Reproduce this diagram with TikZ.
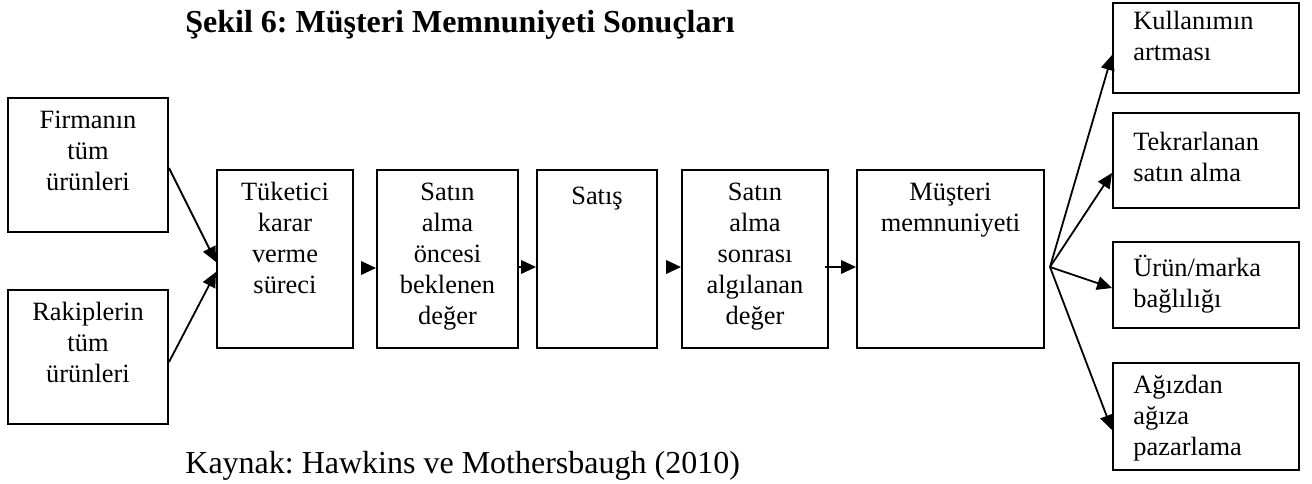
\documentclass[tikz,border=0pt]{standalone}
\usepackage{fontspec}
\setmainfont{Liberation Serif}
\usetikzlibrary{arrows.meta}
\frenchspacing
\begin{document}
\begin{tikzpicture}[x=0.5pt, y=-0.5pt,
  box/.style={draw, line width=1pt, inner sep=0pt, rectangle},
  ctext/.style={anchor=north, inner sep=0pt, align=center,
    font=\fontsize{13.2}{15.5}\selectfont, execute at begin node=\strut},
  ltext/.style={anchor=north west, inner sep=0pt, align=left,
    font=\fontsize{13.2}{15.5}\selectfont, execute at begin node=\strut},
  arr/.style={line width=0.9pt, -{Triangle[length=7.5pt,width=6.8pt]}}]
\useasboundingbox (0,0) rectangle (1312,483);

% title and source
\node[anchor=base west, inner sep=0pt, font=\fontsize{16}{19}\selectfont\bfseries] (title) at (185,32)
  {Şekil 6: Müşteri Memnuniyeti Sonuçları};
\node[anchor=base west, inner sep=0pt, font=\fontsize{16}{19}\selectfont] (src) at (185,473)
  {Kaynak: Hawkins ve Mothersbaugh (2010)};

% left inputs
\node[box, minimum width=80pt, minimum height=67pt] (firma) at (88,165) {};
\node[box, minimum width=80pt, minimum height=67pt] (rakip) at (88,357) {};
% main chain
\node[box, minimum width=68pt, minimum height=89pt] (tuket) at (285,259) {};
\node[box, minimum width=70.5pt, minimum height=89pt] (once) at (447.5,259) {};
\node[box, minimum width=60pt, minimum height=89pt] (satis) at (597,259) {};
\node[box, minimum width=73pt, minimum height=89pt] (sonra) at (755,259) {};
\node[box, minimum width=93.5pt, minimum height=89pt] (must) at (950.5,259) {};
% outcomes
\node[box, minimum width=93pt, minimum height=45pt] (kullan) at (1206,48) {};
\node[box, minimum width=93pt, minimum height=47.5pt] (tekrar) at (1206,160.5) {};
\node[box, minimum width=93pt, minimum height=43pt] (urun) at (1206,285) {};
\node[box, minimum width=93pt, minimum height=53.5pt] (agiz) at (1206,416.5) {};

% box texts
\node[ctext] (t1) at ([yshift=-6.6pt]firma.north) {Firmanın\\tüm\\ürünleri};
\node[ctext] (t2) at ([yshift=-6.6pt]rakip.north) {Rakiplerin\\tüm\\ürünleri};
\node[ctext] (t3) at ([yshift=-6.6pt]tuket.north) {Tüketici\\karar\\verme\\süreci};
\node[ctext] (t4) at ([yshift=-6.6pt]once.north) {Satın\\alma\\öncesi\\beklenen\\değer};
\node[ctext] (t5) at ([yshift=-6.6pt]satis.north) {Satış};
\node[ctext] (t6) at ([yshift=-6.6pt]sonra.north) {Satın\\alma\\sonrası\\algılanan\\değer};
\node[ctext] (t7) at ([yshift=-6.6pt]must.north) {Müşteri\\memnuniyeti};
\node[ltext] (t8) at ([xshift=10.5pt,yshift=-4.5pt]kullan.north west) {Kullanımın\\artması};
\node[ltext] (t9) at ([xshift=10.5pt,yshift=-10pt]tekrar.north west) {Tekrarlanan\\satın alma};
\node[ltext] (t10) at ([xshift=10.5pt,yshift=-6.8pt]urun.north west) {Ürün/marka\\bağlılığı};
\node[ltext] (t11) at ([xshift=10.5pt,yshift=-6.4pt]agiz.north west) {Ağızdan\\ağıza\\pazarlama};

% connectors
\draw[arr] ([yshift=-1.5pt]firma.east) -- ([yshift=-1.5pt]tuket.west);
\draw[arr] ([yshift=-2.5pt]rakip.east) -- ([yshift=-6.5pt]tuket.west);
\draw[arr] ([xshift=4.5pt,yshift=-4.5pt]tuket.east) -- ([yshift=-4.5pt]once.west);
\draw[arr] ([yshift=-4pt]once.east) -- ([yshift=-4pt]satis.west);
\draw[arr] ([xshift=4pt,yshift=-4pt]satis.east) -- ([yshift=-4pt]sonra.west);
\draw[arr] ([xshift=-2pt,yshift=-4pt]sonra.east) -- ([yshift=-4pt]must.west);
\coordinate (fan) at ([xshift=2.5pt,yshift=-4pt]must.east);
\draw[arr] (fan) -- ([yshift=-3.5pt]kullan.west);
\draw[arr] (fan) -- ([yshift=-6.25pt]tekrar.west);
\draw[arr] (fan) -- ([yshift=-1.5pt]urun.west);
\draw[arr] (fan) -- ([yshift=-6.75pt]agiz.west);
\end{tikzpicture}
\end{document}
